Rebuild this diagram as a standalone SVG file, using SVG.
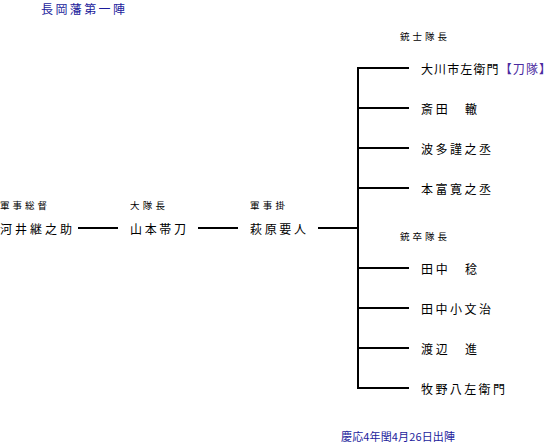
<svg xmlns="http://www.w3.org/2000/svg" width="552" height="443" viewBox="0 0 552 443">
<style>
text{font-family:"Noto Sans CJK JP","Noto Sans",sans-serif;dominant-baseline:central;fill:#000}
.name{font-size:12px}
.role{font-size:9.5px}
.blue{fill:#1c1c9c;font-size:12px}
.date{fill:#1c1c9c;font-size:11px}
.tai{fill:#4a2aa0}
.conn line{stroke:#000;stroke-width:2}
</style>
<rect width="552" height="443" fill="#fff"/>
<text class="blue" x="41" y="8" textLength="84" lengthAdjust="spacing">長岡藩第一陣</text>
<g class="conn">
<line x1="78" y1="228" x2="118" y2="228"/>
<line x1="198" y1="228" x2="238" y2="228"/>
<line x1="318" y1="228" x2="358" y2="228"/>
<line x1="358" y1="67" x2="358" y2="389"/>
<line x1="357" y1="68" x2="409" y2="68"/>
<line x1="357" y1="108" x2="409" y2="108"/>
<line x1="357" y1="148" x2="409" y2="148"/>
<line x1="357" y1="188" x2="409" y2="188"/>
<line x1="357" y1="268" x2="409" y2="268"/>
<line x1="357" y1="308" x2="409" y2="308"/>
<line x1="357" y1="348" x2="409" y2="348"/>
<line x1="357" y1="388" x2="409" y2="388"/>
</g>
<g id="kawai"><text class="role" x="0" y="205" textLength="47" lengthAdjust="spacing">軍事総督</text><text class="name" x="0" y="228" textLength="72" lengthAdjust="spacing">河井継之助</text></g>
<g id="yamamoto"><text class="role" x="130" y="205" textLength="35" lengthAdjust="spacing">大隊長</text><text class="name" x="130" y="228" textLength="56" lengthAdjust="spacing">山本帯刀</text></g>
<g id="hagiwara"><text class="role" x="250" y="205" textLength="35" lengthAdjust="spacing">軍事掛</text><text class="name" x="250" y="228" textLength="56" lengthAdjust="spacing">萩原要人</text></g>
<g id="jushi"><text class="role" x="400" y="36" textLength="47" lengthAdjust="spacing">銃士隊長</text></g>
<g id="okawa"><text class="name" x="421" y="68" textLength="130" lengthAdjust="spacing">大川市左衛門<tspan class="tai">【刀隊】</tspan></text></g>
<g id="saita"><text class="name" x="421" y="108" textLength="56" lengthAdjust="spacing">斎田　轍</text></g>
<g id="hata"><text class="name" x="421" y="148" textLength="70" lengthAdjust="spacing">波多謹之丞</text></g>
<g id="motomiya"><text class="name" x="421" y="188" textLength="70" lengthAdjust="spacing">本富寛之丞</text></g>
<g id="jusotsu"><text class="role" x="400" y="236" textLength="47" lengthAdjust="spacing">銃卒隊長</text></g>
<g id="tanaka1"><text class="name" x="421" y="268" textLength="56" lengthAdjust="spacing">田中　稔</text></g>
<g id="tanaka2"><text class="name" x="421" y="308" textLength="70" lengthAdjust="spacing">田中小文治</text></g>
<g id="watanabe"><text class="name" x="421" y="348" textLength="56" lengthAdjust="spacing">渡辺　進</text></g>
<g id="makino"><text class="name" x="421" y="388" textLength="84" lengthAdjust="spacing">牧野八左衛門</text></g>
<text class="date" x="341" y="436" textLength="114" lengthAdjust="spacing">慶応4年閏4月26日出陣</text>
</svg>
